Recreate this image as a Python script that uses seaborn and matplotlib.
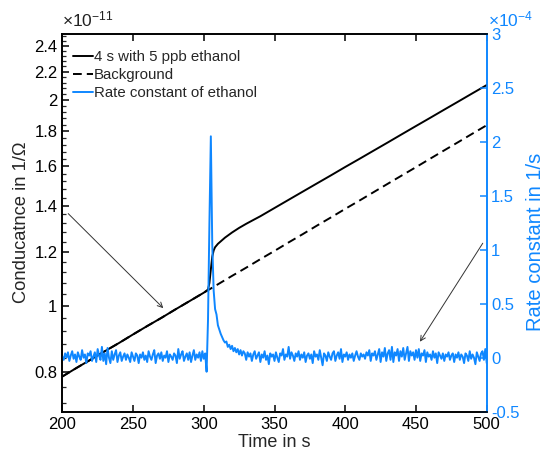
import numpy as np
import pandas as pd
import matplotlib
matplotlib.use("Agg")
import matplotlib.pyplot as plt
from matplotlib.ticker import FixedLocator, FixedFormatter, NullFormatter
from matplotlib.lines import Line2D
import seaborn as sns

# ---------------- data ----------------
# Conductance (units of 1e-11 1/Ohm)
bg_time = [200, 210, 220, 230, 240, 250, 260, 270, 280, 290, 300, 303, 310, 320, 330,
           340, 350, 360, 370, 380, 390, 400, 410, 420, 430, 440, 450, 460, 470, 480, 490, 500]
bg_cond = [0.788, 0.811, 0.834, 0.858, 0.882, 0.908, 0.934, 0.960, 0.988, 1.016, 1.045, 1.054,
           1.075, 1.106, 1.137, 1.170, 1.203, 1.238, 1.273, 1.310, 1.347, 1.386, 1.425, 1.466,
           1.508, 1.551, 1.595, 1.641, 1.688, 1.736, 1.786, 1.837]

eth_time = [200, 210, 220, 230, 240, 250, 260, 270, 280, 290, 300, 303, 304, 305, 306, 307,
            308, 310, 315, 320, 325, 330, 335, 340, 350, 360, 370, 380, 390, 400, 410, 420,
            430, 440, 450, 460, 470, 480, 490, 500]
eth_cond = [0.788, 0.811, 0.834, 0.858, 0.882, 0.908, 0.934, 0.960, 0.988, 1.016, 1.045, 1.056,
            1.08, 1.13, 1.18, 1.205, 1.218, 1.232, 1.258, 1.280, 1.300, 1.318, 1.335, 1.352,
            1.390, 1.429, 1.469, 1.510, 1.552, 1.596, 1.640, 1.686, 1.733, 1.782, 1.832, 1.883,
            1.936, 1.990, 2.046, 2.103]

# Rate constant (units of 1e-4 1/s), one value per second from 200 s to 500 s
rate_time = list(range(200, 501))
rate_vals = [
    0.01, -0.02, 0.04, 0.00, 0.05, -0.03, 0.02, 0.06, -0.01, 0.03,
    -0.04, 0.05, 0.01, -0.02, 0.07, 0.00, 0.03, -0.05, 0.04, 0.02,
    0.06, -0.03, 0.01, 0.05, -0.04, 0.08, 0.02, -0.02, 0.10, -0.03,
    0.04, -0.06, 0.09, 0.00, -0.05, 0.06, -0.02, 0.03, 0.07, -0.04,
    0.02, 0.05, -0.03, 0.01, 0.04, -0.02, 0.03, 0.00, -0.04, 0.05,
    0.01, -0.03, 0.04, 0.02, -0.05, 0.03, 0.00, 0.05, -0.02, 0.02,
    -0.04, 0.06, 0.01, -0.02, 0.03, 0.07, -0.05, 0.02, 0.04, -0.01,
    0.05, -0.03, 0.02, 0.00, 0.06, -0.04, 0.03, 0.01, -0.02, 0.04,
    0.02, -0.05, 0.08, -0.01, 0.03, 0.06, -0.03, 0.01, 0.04, -0.02,
    0.05, -0.04, 0.02, 0.07, -0.02, 0.03, 0.00, 0.05, -0.03, 0.06,
    -0.01, 0.04, -0.13, 0.35, 1.25, 2.05, 1.05, 0.62, 0.45, 0.40,
    0.30, 0.26, 0.22, 0.19, 0.16, 0.14, 0.15, 0.10, 0.12, 0.08,
    0.11, 0.06, 0.09, 0.05, 0.08, 0.03, 0.07, 0.02, 0.06, 0.04,
    -0.02, 0.05, 0.01, 0.04, -0.03, 0.03, 0.06, -0.01, 0.02, 0.05,
    -0.04, 0.03, 0.00, 0.06, -0.02, 0.02, -0.06, 0.04, 0.01, 0.03,
    -0.03, 0.05, 0.00, -0.04, 0.04, 0.02, 0.08, -0.02, 0.03, 0.01,
    0.10, -0.01, 0.05, 0.02, -0.03, 0.04, 0.01, 0.06, -0.02, 0.03,
    0.00, 0.05, -0.04, 0.02, 0.04, -0.01, 0.03, -0.05, 0.06, 0.01,
    0.03, -0.02, 0.07, 0.00, -0.07, 0.04, 0.02, -0.03, 0.05, 0.01,
    -0.02, 0.04, 0.06, -0.03, 0.02, 0.05, -0.01, 0.08, -0.04, 0.03,
    0.01, 0.05, -0.02, 0.03, 0.00, 0.04, -0.03, 0.02, 0.06, 0.01,
    -0.02, 0.04, 0.01, 0.03, -0.01, 0.05, 0.02, 0.07, -0.03, 0.04,
    0.02, 0.06, -0.02, 0.03, 0.08, -0.04, 0.05, 0.01, 0.09, -0.03,
    0.04, 0.07, -0.02, 0.10, -0.04, 0.05, 0.02, 0.08, -0.03, 0.06,
    0.01, 0.09, -0.02, 0.04, 0.10, -0.03, 0.06, 0.02, 0.05, -0.02,
    0.07, 0.00, 0.08, -0.03, 0.04, 0.02, 0.07, -0.04, 0.05, 0.01,
    0.03, -0.02, 0.06, 0.00, 0.04, -0.05, 0.05, 0.02, -0.01, 0.04,
    -0.03, 0.03, 0.01, 0.05, -0.02, 0.02, 0.04, -0.04, 0.03, 0.00,
    0.05, -0.02, 0.03, 0.01, -0.05, 0.04, 0.02, -0.03, 0.06, -0.01,
    0.03, 0.00, -0.06, 0.05, 0.01, -0.03, 0.04, 0.06, -0.02, 0.08,
    -0.05,
]

x_ticks = [200, 250, 300, 350, 400, 450, 500]
left_ticks = [0.8, 1.0, 1.2, 1.4, 1.6, 1.8, 2.0, 2.2, 2.4]
left_tick_labels = ["0.8", "1", "1.2", "1.4", "1.6", "1.8", "2", "2.2", "2.4"]
right_ticks = [-0.5, 0, 0.5, 1, 1.5, 2, 2.5, 3]
right_tick_labels = ["-0.5", "0", "0.5", "1", "1.5", "2", "2.5", "3"]

labels = ["4 s with 5 ppb ethanol", "Background", "Rate constant of ethanol"]

# ---------------- style ----------------
sns.set_style("ticks")
plt.rcParams["font.family"] = ["Liberation Sans", "DejaVu Sans"]
plt.rcParams["mathtext.default"] = "regular"

BLUE = "#0F87FF"

fig = plt.figure(figsize=(5.44, 4.58), dpi=100)
ax = fig.add_axes([0.1145, 0.1011, 0.7802, 0.8253])
ax2 = ax.twinx()

df_bg = pd.DataFrame({"t": bg_time, "c": bg_cond})
df_eth = pd.DataFrame({"t": eth_time, "c": eth_cond})
df_rate = pd.DataFrame({"t": rate_time, "r": rate_vals})

sns.lineplot(data=df_bg, x="t", y="c", ax=ax, color="black", lw=1.4,
             linestyle=(0, (4.5, 2.6)), zorder=2)
sns.lineplot(data=df_eth, x="t", y="c", ax=ax, color="black", lw=1.4, zorder=3)
sns.lineplot(data=df_rate, x="t", y="r", ax=ax2, color=BLUE, lw=1.4)

# left axis (log)
ax.set_yscale("log")
ax.set_xlim(200, 500)
ax.set_ylim(0.7, 2.5)
ax.yaxis.set_major_locator(FixedLocator(left_ticks))
ax.yaxis.set_major_formatter(FixedFormatter(left_tick_labels))
minor = [round(v, 2) for v in np.arange(0.72, 2.5, 0.04)]
minor = [v for v in minor if all(abs(v - m) > 1e-6 for m in left_ticks)]
ax.yaxis.set_minor_locator(FixedLocator(minor))
ax.yaxis.set_minor_formatter(NullFormatter())
ax.set_xticks(x_ticks)
ax.tick_params(axis="both", which="major", direction="in", length=5, width=1.1,
               labelsize=12, colors="black")
ax.tick_params(axis="y", which="minor", direction="in", length=3, width=0.9)
ax.tick_params(axis="x", top=True, labeltop=False)
ax.set_xlabel("Time in s", fontsize=13, labelpad=2)
ax.set_ylabel("Conducatnce in 1/Ω", fontsize=13.2)
ax.yaxis.set_label_coords(-0.077, 0.5)

# right axis
ax2.set_ylim(-0.5, 3)
ax2.set_yticks(right_ticks)
ax2.set_yticklabels(right_tick_labels)
ax2.tick_params(axis="y", direction="in", length=5, width=1.1, labelsize=12,
                colors=BLUE, pad=3)
ax2.set_ylabel("Rate constant in 1/s", fontsize=14.5, color=BLUE, rotation=90)
ax2.yaxis.set_label_coords(1.093, 0.45)

for a in (ax, ax2):
    for s in a.spines.values():
        s.set_visible(True)
        s.set_linewidth(1.2)
        s.set_color("black")
ax2.spines["right"].set_color(BLUE)
ax.spines["right"].set_color(BLUE)

# exponent labels
ax.text(0.0, 1.012, r"$\times10^{-11}$", transform=ax.transAxes, fontsize=12.5,
        ha="left", va="bottom", color="#222222")
ax2.text(1.002, 1.012, r"$\times10^{-4}$", transform=ax2.transAxes, fontsize=12.5,
         ha="left", va="bottom", color=BLUE)

# arrows
ax.annotate("", xy=(271.4, 0.992), xytext=(204.2, 1.364),
            arrowprops=dict(arrowstyle="->", color="#333333", lw=0.7,
                            mutation_scale=9, shrinkA=0, shrinkB=0))
ax2.annotate("", xy=(452.8, 0.148), xytext=(497.2, 1.06),
             arrowprops=dict(arrowstyle="->", color="#333333", lw=0.7,
                             mutation_scale=9, shrinkA=0, shrinkB=0))

# legend
handles = [Line2D([], [], color="black", lw=1.4),
           Line2D([], [], color="black", lw=1.4, linestyle=(0, (4.5, 2.6))),
           Line2D([], [], color=BLUE, lw=1.4)]
ax2.legend(handles, labels, loc="upper left", frameon=False, fontsize=10.8,
           handlelength=1.33, handletextpad=0.1, labelspacing=0.27,
           borderaxespad=0.3, bbox_to_anchor=(0.0, 0.985))

fig.savefig("out.png", dpi=100)
